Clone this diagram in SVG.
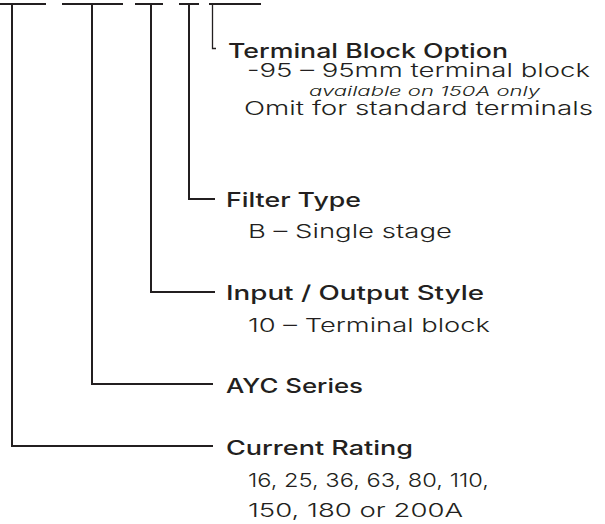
<svg xmlns="http://www.w3.org/2000/svg" width="605" height="524" viewBox="0 0 605 524">
<style>
.ln{fill:none;stroke:#231f20;stroke-width:2;stroke-linecap:butt;stroke-linejoin:miter}
.thin{fill:none;stroke:#231f20;stroke-width:1.3}
.h{font-family:Inter,"Liberation Sans",sans-serif;font-size:20px;font-weight:500;fill:#231f20}
.b{font-family:Inter,"Liberation Sans",sans-serif;font-size:19px;font-weight:300;fill:#231f20}
.i{font-family:Inter,"Liberation Sans",sans-serif;font-size:13.5px;font-weight:300;font-style:italic;fill:#231f20}
</style>
<rect width="605" height="524" fill="#ffffff"/>
<g id="connectors">
<path class="ln" d="M0,4 H46 M12,4 V446 H213"/>
<path class="ln" d="M62,4 H123 M92,4 V384 H213"/>
<path class="ln" d="M135,4 H163 M151,4 V292 H215"/>
<path class="ln" d="M179,4 H199 M189,4 V199 H215"/>
<path class="ln" d="M209,4 H261"/>
<path class="thin" d="M212.5,4 V48.5 H216"/>
</g>
<g id="terminal-block-option">
<text class="h" x="228" y="58" textLength="280" lengthAdjust="spacingAndGlyphs">Terminal Block Option</text>
<text class="b" x="247" y="77" textLength="343" lengthAdjust="spacingAndGlyphs">-95 – 95mm terminal block</text>
<text class="i" x="309" y="96" textLength="231" lengthAdjust="spacingAndGlyphs">available on 150A only</text>
<text class="b" x="244" y="115" textLength="349" lengthAdjust="spacingAndGlyphs">Omit for standard terminals</text>
</g>
<g id="filter-type">
<text class="h" x="226" y="207" textLength="135" lengthAdjust="spacingAndGlyphs">Filter Type</text>
<text class="b" x="248" y="238" textLength="204" lengthAdjust="spacingAndGlyphs">B – Single stage</text>
</g>
<g id="input-output-style">
<text class="h" x="226" y="300" textLength="258" lengthAdjust="spacingAndGlyphs">Input / Output Style</text>
<text class="b" x="248" y="332" textLength="242" lengthAdjust="spacingAndGlyphs">10 – Terminal block</text>
</g>
<g id="ayc-series">
<text class="h" x="226" y="393" textLength="137" lengthAdjust="spacingAndGlyphs">AYC Series</text>
</g>
<g id="current-rating">
<text class="h" x="226" y="455" textLength="187" lengthAdjust="spacingAndGlyphs">Current Rating</text>
<text class="b" x="248" y="487" textLength="241" lengthAdjust="spacingAndGlyphs">16, 25, 36, 63, 80, 110,</text>
<text class="b" x="248" y="517" textLength="215" lengthAdjust="spacingAndGlyphs">150, 180 or 200A</text>
</g>
</svg>
